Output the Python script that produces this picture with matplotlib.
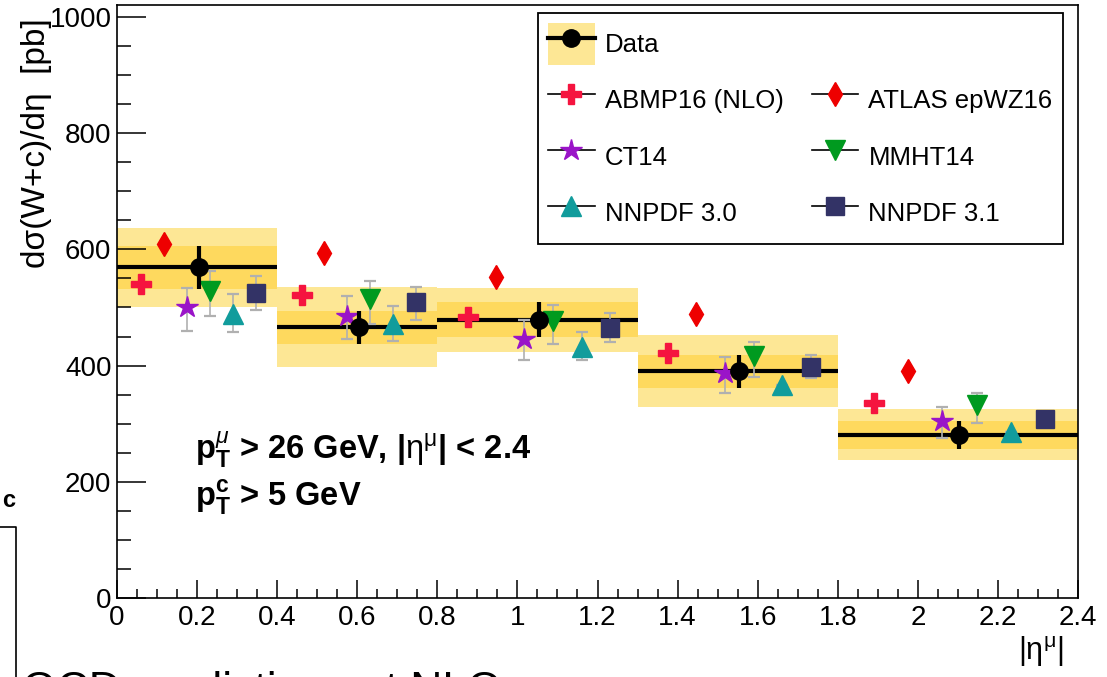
import matplotlib

matplotlib.use("Agg")
import matplotlib.pyplot as plt  # noqa: E402
from matplotlib.lines import Line2D  # noqa: E402
from matplotlib.patches import Patch  # noqa: E402

plt.rcParams["font.family"] = ["Liberation Sans", "DejaVu Sans"]
plt.rcParams["mathtext.fontset"] = "custom"
plt.rcParams["mathtext.rm"] = "Liberation Sans"
plt.rcParams["mathtext.it"] = "Liberation Sans:italic"
plt.rcParams["mathtext.bf"] = "Liberation Sans:bold"

# bins in |eta^mu|
eta_edges = [0.0, 0.4, 0.8, 1.3, 1.8, 2.4]

# measured cross section (pb)
data_x = [0.205, 0.605, 1.054, 1.553, 2.103]
data_y = [569, 466, 479, 390, 281]
data_stat = [37, 28, 30, 28, 24]
data_tot = [68, 69, 55, 62, 44]

# predictions: x offset, value, err down, err up
abmp_x = [0.06, 0.462, 0.876, 1.375, 1.89]
abmp_y = [540, 522, 484, 422, 335]

atlas_x = [0.117, 0.517, 0.947, 1.446, 1.975]
atlas_y = [609, 593, 553, 488, 391]

ct14_x = [0.175, 0.574, 1.017, 1.518, 2.06]
ct14_y = [500, 485, 446, 388, 304]
ct14_lo = [41, 39, 36, 35, 28]
ct14_hi = [34, 34, 32, 26, 24]

mmht_x = [0.232, 0.632, 1.089, 1.59, 2.148]
mmht_y = [528, 514, 476, 417, 333]
mmht_lo = [43, 42, 38, 36, 32]
mmht_hi = [34, 32, 28, 23, 20]

nn30_x = [0.29, 0.69, 1.161, 1.66, 2.233]
nn30_y = [488, 471, 432, 367, 285]
nn30_lo = [31, 28, 23, 0, 0]
nn30_hi = [36, 32, 25, 0, 0]

nn31_x = [0.347, 0.747, 1.232, 1.733, 2.318]
nn31_y = [525, 509, 465, 398, 308]
nn31_lo = [30, 30, 25, 19, 0]
nn31_hi = [30, 27, 26, 21, 0]

BAND_OUT = "#fde795"
BAND_IN = "#fed95e"

fig = plt.figure(figsize=(11.07, 6.77), dpi=100)
ax = fig.add_axes([117 / 1107, 1 - 598 / 677, 961 / 1107, 593 / 677])

lo_edges = eta_edges[:-1]
widths = [b - a for a, b in zip(eta_edges[:-1], eta_edges[1:])]
ax.bar(lo_edges, [2 * t for t in data_tot], width=widths, align="edge",
       bottom=[y - t for y, t in zip(data_y, data_tot)], color=BAND_OUT, lw=0)
ax.bar(lo_edges, [2 * s for s in data_stat], width=widths, align="edge",
       bottom=[y - s for y, s in zip(data_y, data_stat)], color=BAND_IN, lw=0)
ax.hlines(data_y, eta_edges[:-1], eta_edges[1:], color="black", lw=3)


def model(x, y, lo, hi, marker, color, ms):
    if lo is not None:
        _, caps, bars = ax.errorbar(x, y, yerr=[lo, hi], fmt="none",
                                    ecolor="#b0b0b0", elinewidth=1.2,
                                    capsize=4, capthick=1.6, zorder=3)
        for c in caps:
            c.set_color("black")
    ax.plot(x, y, ls="none", marker=marker, color=color, ms=ms,
            mec=color, zorder=4)


STY = {
    "abmp": ("P", "#f5143f", 14),
    "atlas": ("d", "#ee0000", 12),
    "ct14": ("*", "#9a14c8", 16),
    "mmht": ("v", "#009a1f", 14),
    "nn30": ("^", "#119c9c", 14),
    "nn31": ("s", "#333366", 12.5),
}

model(abmp_x, abmp_y, None, None, *STY["abmp"])
model(atlas_x, atlas_y, None, None, *STY["atlas"])
model(ct14_x, ct14_y, ct14_lo, ct14_hi, *STY["ct14"])
model(mmht_x, mmht_y, mmht_lo, mmht_hi, *STY["mmht"])
model(nn30_x, nn30_y, nn30_lo, nn30_hi, *STY["nn30"])
model(nn31_x, nn31_y, nn31_lo, nn31_hi, *STY["nn31"])

ax.errorbar(data_x, data_y, yerr=data_stat, fmt="o", color="black",
            ms=12.5, elinewidth=3, capsize=0, zorder=5)

ax.set_xlim(0, 2.4)
ax.set_ylim(0, 1020.6)
ax.set_xticks([i * 0.2 for i in range(13)])
ax.set_xticklabels(["0", "0.2", "0.4", "0.6", "0.8", "1", "1.2", "1.4",
                    "1.6", "1.8", "2", "2.2", "2.4"])
ax.set_xticks([i * 0.05 for i in range(49)], minor=True)
ax.set_yticks([0, 200, 400, 600, 800, 1000])
ax.set_yticks(list(range(0, 1001, 50)), minor=True)
ax.tick_params(axis="both", which="both", direction="in", labelsize=20,
               top=False, right=False, width=1.1)
ax.tick_params(axis="y", which="major", length=21, pad=4)
ax.tick_params(axis="y", which="minor", length=10)
ax.tick_params(axis="x", which="major", length=13, pad=5)
ax.tick_params(axis="x", which="minor", length=6.5)
for sp in ax.spines.values():
    sp.set_linewidth(1.2)

fig.text(37 / 1107, 1 - 18 / 677, "dσ(W+c)/dη  [pb]", rotation=90,
         ha="center", va="top", fontsize=24)
fig.text(1064 / 1107, 1 - 652 / 677, r"$\mathrm{|\eta^{\mu}|}$",
         ha="right", va="center", fontsize=22)

ax.text((195 - 117) / 961, (598 - 459) / 593,
        r"$\mathbf{p}_{\mathbf{T}}^{\mu}$ > 26 GeV, |$\mathrm{\eta^{\mu}}$| < 2.4",
        transform=ax.transAxes, fontsize=23.5, fontweight="bold",
        ha="left", va="baseline")
ax.text((195 - 117) / 961, (598 - 506) / 593,
        r"$\mathbf{p}_{\mathbf{T}}^{\mathbf{c}}$ > 5 GeV",
        transform=ax.transAxes, fontsize=23.5, fontweight="bold",
        ha="left", va="baseline")

h_data = (Patch(color=BAND_OUT, lw=0),
          Line2D([], [], color="black", lw=3, marker="o", ms=12.5))
blank = Patch(alpha=0, lw=0)


def lh(key):
    marker, color, ms = STY[key]
    return Line2D([], [], color="black", lw=1.2, marker=marker, ms=ms,
                  mfc=color, mec=color)


handles = [h_data, lh("abmp"), lh("ct14"), lh("nn30"), blank, lh("atlas"),
           lh("mmht"), lh("nn31")]
labels = ["Data", "ABMP16 (NLO)", "CT14", "NNPDF 3.0", "",
          "ATLAS epWZ16", "MMHT14", "NNPDF 3.1"]
leg = ax.legend(handles, labels, ncol=2, loc="upper left",
                bbox_to_anchor=((538 - 117) / 961, (598 - 13) / 593),
                borderaxespad=0, fontsize=18.5, handlelength=1.8,
                handleheight=2.1, handletextpad=0.4, labelspacing=0.58,
                columnspacing=1.1, borderpad=0.4, fancybox=False,
                framealpha=1, edgecolor="black")
leg.get_frame().set_linewidth(1.3)

# pieces of the neighbouring panel that the crop caught
fig.text(2 / 1107, 1 - 507 / 677, "c", fontsize=17, fontweight="bold",
         ha="left", va="baseline")
fig.add_artist(Line2D([0, 16 / 1107, 16 / 1107],
                      [1 - 527 / 677, 1 - 527 / 677, 0],
                      color="black", lw=1.2))
fig.text(22 / 1107, 1 - 703 / 677, "QCD predictions at NLO", fontsize=32,
         ha="left", va="baseline")

fig.savefig("out.png", dpi=100)
